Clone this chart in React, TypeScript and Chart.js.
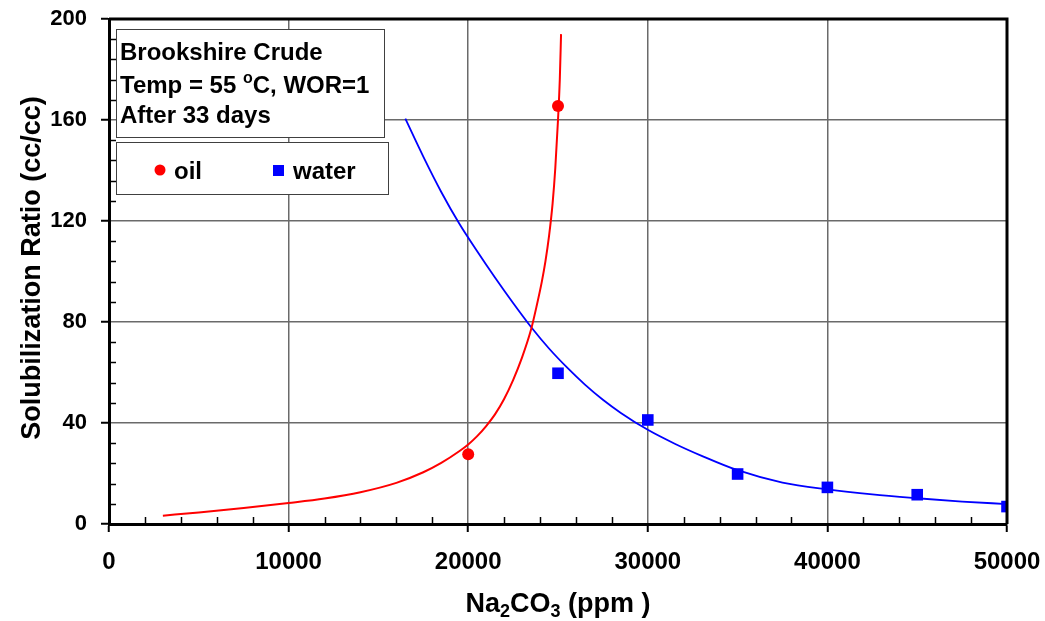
import React, { useEffect, useRef } from 'react';
import { Chart, registerables } from 'chart.js';

Chart.register(...registerables);

const FONT = '"Liberation Sans", Arial, Helvetica, sans-serif';

// Measured data points
const oilX = [20000, 25000];
const oilY = [27.6, 165.5];
const waterX = [25000, 30000, 35000, 40000, 45000, 50000];
const waterY = [59.7, 41.2, 19.8, 14.5, 11.6, 6.9];

// Fitted curves
const oilFitX = [3000, 5000, 7500, 10000, 12000, 14000, 16000, 17500, 18500, 19500, 20000, 20500, 21000, 21500, 22000, 22500, 23000, 23500, 23800, 24100, 24300, 24500, 24700, 24850, 25000, 25100, 25170];
const oilFitY = [3.3, 4.6, 6.3, 8.3, 10.1, 12.6, 16.3, 20.5, 24.2, 28.8, 31.5, 34.8, 38.8, 43.5, 49.5, 57, 66, 77, 86, 96, 104, 114, 127, 141, 160, 176, 194];
const waterFitX = [16500, 17500, 18500, 19500, 20500, 21500, 22500, 23500, 24500, 25500, 26500, 27500, 28500, 30000, 31500, 33000, 35000, 37500, 40000, 42500, 45000, 47500, 50000];
const waterFitY = [160.5, 145.5, 131.5, 119, 108, 97.5, 87.5, 78, 69.5, 62, 55.2, 49.2, 44, 37.3, 31.8, 27, 21.3, 16.4, 13.7, 11.7, 10.2, 8.9, 7.9];

// Axes
const xMin = 0, xMax = 50000, xStep = 10000, xMinorStep = 2000;
const yMin = 0, yMax = 200, yStep = 40, yMinorStep = 8;

// Texts
const yTitle = 'Solubilization Ratio (cc/cc)';
const xTitleParts = [
  { t: 'Na', sub: false }, { t: '2', sub: true }, { t: 'CO', sub: false }, { t: '3', sub: true }, { t: ' (ppm )', sub: false },
];
const infoLine1 = 'Brookshire Crude';
const infoLine2Parts = [{ t: 'Temp = 55 ', sup: false }, { t: 'o', sup: true }, { t: 'C, WOR=1', sup: false }];
const infoLine3 = 'After 33 days';
const legendLabels = ['oil', 'water'];

const RED = '#ff0000';
const BLUE = '#0000ff';

const toXY = (xs: number[], ys: number[]) => xs.map((x, i) => ({ x, y: ys[i] }));

const decorPlugin = {
  id: 'decor',
  beforeDatasetsDraw(chart: any) {
    const { ctx, chartArea: a, scales } = chart;
    const xs = scales.x, ys = scales.y;
    ctx.save();
    ctx.strokeStyle = '#000';
    ctx.lineWidth = 1.5;
    for (let v = xMin + xMinorStep; v < xMax; v += xMinorStep) {
      if (v % xStep === 0) continue;
      const px = Math.round(xs.getPixelForValue(v)) + 0.5;
      ctx.beginPath();
      ctx.moveTo(px, a.bottom);
      ctx.lineTo(px, a.bottom - 7);
      ctx.stroke();
    }
    for (let v = yMin + yMinorStep; v < yMax; v += yMinorStep) {
      if (v % yStep === 0) continue;
      const py = Math.round(ys.getPixelForValue(v)) + 0.5;
      ctx.beginPath();
      ctx.moveTo(a.left, py);
      ctx.lineTo(a.left + 7, py);
      ctx.stroke();
    }
    ctx.restore();
  },
  afterDatasetsDraw(chart: any) {
    const { ctx, chartArea: a } = chart;
    ctx.save();
    ctx.strokeStyle = '#000';
    ctx.lineWidth = 3;
    ctx.beginPath();
    ctx.moveTo(a.left, a.top);
    ctx.lineTo(a.right, a.top);
    ctx.lineTo(a.right, a.bottom);
    ctx.stroke();

    ctx.fillStyle = '#fff';
    ctx.strokeStyle = '#404040';
    ctx.lineWidth = 1;
    ctx.fillRect(116, 29, 268, 108);
    ctx.strokeRect(116.5, 29.5, 268, 108);
    ctx.fillRect(116, 142, 272, 52);
    ctx.strokeRect(116.5, 142.5, 272, 52);

    ctx.fillStyle = '#000';
    ctx.textBaseline = 'alphabetic';
    ctx.textAlign = 'left';
    ctx.font = `bold 24px ${FONT}`;
    ctx.fillText(infoLine1, 120, 60);
    let x = 120;
    for (const p of infoLine2Parts) {
      if (p.sup) {
        ctx.font = `bold 16px ${FONT}`;
        ctx.fillText(p.t, x, 83);
      } else {
        ctx.font = `bold 24px ${FONT}`;
        ctx.fillText(p.t, x, 93);
      }
      x += ctx.measureText(p.t).width;
    }
    ctx.font = `bold 24px ${FONT}`;
    ctx.fillText(infoLine3, 120, 123);

    ctx.fillStyle = RED;
    ctx.beginPath();
    ctx.arc(160, 170, 5.5, 0, Math.PI * 2);
    ctx.fill();
    ctx.fillStyle = BLUE;
    ctx.fillRect(273, 165, 11, 11);
    ctx.fillStyle = '#000';
    ctx.font = `bold 24px ${FONT}`;
    ctx.fillText(legendLabels[0], 174, 179);
    ctx.fillText(legendLabels[1], 293, 179);

    const parts = xTitleParts.map((p) => {
      ctx.font = p.sub ? `bold 18px ${FONT}` : `bold 27px ${FONT}`;
      return { ...p, w: ctx.measureText(p.t).width };
    });
    const total = parts.reduce((s, p) => s + p.w, 0);
    let tx = (a.left + a.right) / 2 - total / 2;
    for (const p of parts) {
      ctx.font = p.sub ? `bold 18px ${FONT}` : `bold 27px ${FONT}`;
      ctx.fillText(p.t, tx, p.sub ? 617 : 612);
      tx += p.w;
    }

    ctx.save();
    ctx.translate(40, 268);
    ctx.rotate(-Math.PI / 2);
    ctx.textAlign = 'center';
    ctx.font = `bold 27px ${FONT}`;
    ctx.fillText(yTitle, 0, 0);
    ctx.restore();

    ctx.restore();
  },
};

export default function App() {
  const ref = useRef<HTMLCanvasElement | null>(null);
  useEffect(() => {
    if (!ref.current) return;
    const chart = new Chart(ref.current, {
      type: 'scatter',
      data: {
        datasets: [
          {
            label: 'oil',
            data: toXY(oilX, oilY),
            pointStyle: 'circle',
            pointRadius: 6,
            backgroundColor: RED,
            borderColor: RED,
            borderWidth: 0,
            showLine: false,
          },
          {
            label: 'water',
            data: toXY(waterX, waterY),
            pointStyle: 'rect',
            pointRadius: 8.2,
            backgroundColor: BLUE,
            borderColor: BLUE,
            borderWidth: 0,
            showLine: false,
          },
          {
            label: 'oil fit',
            data: toXY(oilFitX, oilFitY),
            showLine: true,
            pointRadius: 0,
            borderColor: RED,
            borderWidth: 2,
            cubicInterpolationMode: 'monotone',
            fill: false,
          },
          {
            label: 'water fit',
            data: toXY(waterFitX, waterFitY),
            showLine: true,
            pointRadius: 0,
            borderColor: BLUE,
            borderWidth: 1.8,
            cubicInterpolationMode: 'monotone',
            fill: false,
          },
        ],
      },
      options: {
        animation: false,
        responsive: false,
        maintainAspectRatio: false,
        layout: { padding: { top: 19, right: 38, left: 0, bottom: 0 } },
        plugins: { legend: { display: false }, tooltip: { enabled: false } },
        scales: {
          x: {
            type: 'linear',
            min: xMin,
            max: xMax,
            afterFit: (s: any) => { s.height = 97; s.paddingLeft = 0; s.paddingRight = 0; },
            ticks: {
              stepSize: xStep,
              color: '#000',
              font: { family: FONT, size: 24, weight: 'bold' },
              padding: 16,
              maxRotation: 0,
              callback: (v: any) => String(v),
            },
            grid: { color: '#6a6a6a', lineWidth: 1.5, tickLength: 8, tickColor: '#000', tickWidth: 2 },
            border: { display: true, color: '#000', width: 3 },
          },
          y: {
            type: 'linear',
            min: yMin,
            max: yMax,
            afterFit: (s: any) => { s.width = 109; s.paddingTop = 0; s.paddingBottom = 0; },
            ticks: {
              stepSize: yStep,
              color: '#000',
              font: { family: FONT, size: 22, weight: 'bold' },
              padding: 14,
              callback: (v: any) => String(v),
            },
            grid: { color: '#6a6a6a', lineWidth: 1.5, tickLength: 8, tickColor: '#000', tickWidth: 2 },
            border: { display: true, color: '#000', width: 3 },
          },
        },
      },
      plugins: [decorPlugin],
    } as any);
    return () => chart.destroy();
  }, []);
  return (
    <div style={{ position: 'absolute', left: 0, top: 0, width: 1045, height: 621, background: '#fff' }}>
      <canvas ref={ref} width={1045} height={621} style={{ display: 'block', width: 1045, height: 621 }} />
    </div>
  );
}
